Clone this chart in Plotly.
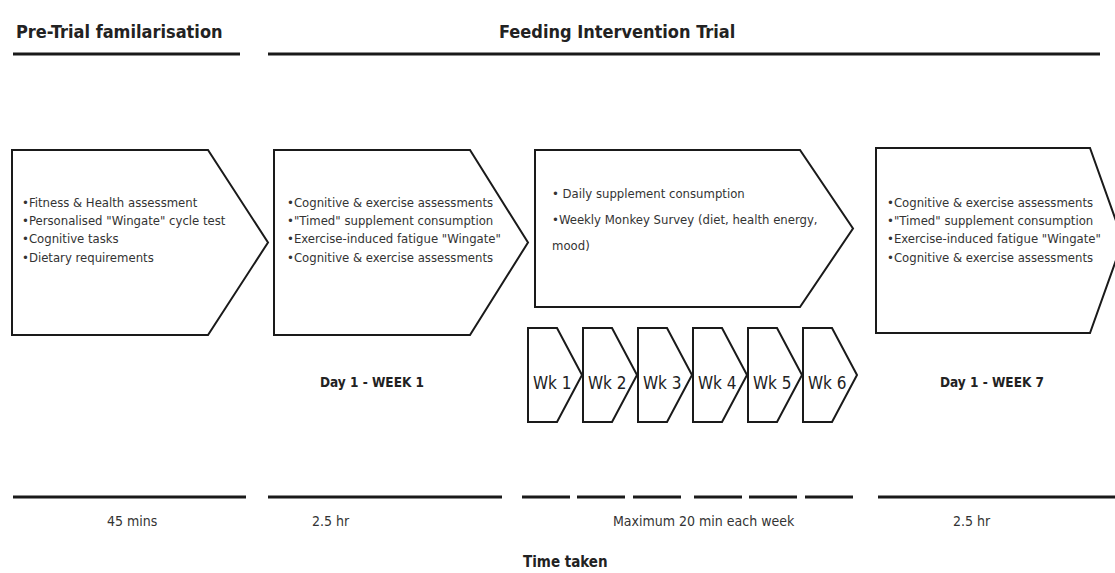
import plotly.graph_objects as go

# ---------------- data ----------------
phase_titles = ["Pre-Trial familarisation", "Feeding Intervention Trial"]
box1_lines = ["•Fitness & Health assessment", "•Personalised \"Wingate\" cycle test",
              "•Cognitive tasks", "•Dietary requirements"]
box2_lines = ["•Cognitive & exercise assessments", "•\"Timed\" supplement consumption",
              "•Exercise-induced fatigue \"Wingate\"", "•Cognitive & exercise assessments"]
box3_lines = ["• Daily supplement consumption", "•Weekly Monkey Survey (diet, health energy,", "mood)"]
box4_lines = ["•Cognitive & exercise assessments", "•\"Timed\" supplement consumption",
              "•Exercise-induced fatigue \"Wingate\"", "•Cognitive & exercise assessments"]
week_labels = ["Wk 1", "Wk 2", "Wk 3", "Wk 4", "Wk 5", "Wk 6"]
day_labels = ["Day 1 - WEEK 1", "Day 1 - WEEK 7"]
durations = ["45 mins", "2.5 hr", "Maximum 20 min each week", "2.5 hr"]
axis_title = "Time taken"

# ---------------- layout constants ----------------
W, H = 1115, 573
FONT = "Liberation Sans Narrow, DejaVu Sans Condensed, Arial Narrow, sans-serif"
TXT = "#333333"
LINE = "#1a1a1a"

fig = go.Figure()
shapes = []
ann = []

def pentagon(x0, y0, xr, xt, y1):
    yt = (y0 + y1) / 2
    path = f"M {x0},{y0} L {xr},{y0} L {xt},{yt} L {xr},{y1} L {x0},{y1} Z"
    shapes.append(dict(type="path", path=path, xref="x", yref="y",
                       line=dict(color=LINE, width=2), fillcolor="white", layer="below"))

def hline(x0, x1, y, w=3):
    shapes.append(dict(type="line", x0=x0, x1=x1, y0=y, y1=y, xref="x", yref="y",
                       line=dict(color=LINE, width=w)))

def text(x, y, s, size=13, anchor="left", bold=False, color=TXT):
    ann.append(dict(x=x, y=y, xref="x", yref="y", text=s, showarrow=False,
                    xanchor=anchor, yanchor="middle",
                    font=dict(family=FONT, size=size, color=color,
                              weight="bold" if bold else "normal")))

# header
text(14, 31, phase_titles[0], size=18, bold=True, color="#222222")
text(617, 31, phase_titles[1], size=18, anchor="center", bold=True, color="#222222")
hline(13, 240, 54)
hline(268, 1100, 54)

# big boxes
pentagon(12, 150, 208, 268, 335)
pentagon(274, 150, 470, 528, 335)
pentagon(535, 150, 800, 853, 307)
pentagon(876, 148, 1090, 1123, 333)

body_y = [202, 220, 238, 257]
for i, s in enumerate(box1_lines):
    text(20, body_y[i], s)
for i, s in enumerate(box2_lines):
    text(285, body_y[i], s)
for i, s in enumerate(box4_lines):
    text(885, body_y[i], s)
for i, s in enumerate(box3_lines):
    text(550, [193, 219, 245][i], s)

# weekly boxes
for i, s in enumerate(week_labels):
    x0 = 528 + 55 * i
    pentagon(x0, 328, x0 + 29, x0 + 54, 422)
    text(x0 + 24, 383, s, size=17, anchor="center", color="#222222")

text(372, 382, day_labels[0], size=13.5, anchor="center", bold=True, color="#222222")
text(992, 382, day_labels[1], size=13.5, anchor="center", bold=True, color="#222222")

# bottom timeline
hline(13, 246, 497)
hline(268, 502, 497)
for x0 in [522, 577, 633, 694, 749, 805]:
    hline(x0, x0 + 48, 497)
hline(878, 1115, 497)

text(132, 521, durations[0], size=14, anchor="center")
text(331, 521, durations[1], size=14, anchor="center")
text(704, 521, durations[2], size=14, anchor="center")
text(972, 521, durations[3], size=14, anchor="center")
text(565, 562, axis_title, size=15, anchor="center", bold=True, color="#222222")

fig.update_layout(
    width=W, height=H,
    margin=dict(l=0, r=0, t=0, b=0),
    paper_bgcolor="white", plot_bgcolor="white",
    xaxis=dict(range=[0, W], visible=False, fixedrange=True),
    yaxis=dict(range=[H, 0], visible=False, fixedrange=True),
    shapes=shapes, annotations=ann, showlegend=False,
)

fig.write_html("out.html", config={"displayModeBar": False},
               post_script="document.body.style.margin='0';document.body.style.overflow='hidden';")
